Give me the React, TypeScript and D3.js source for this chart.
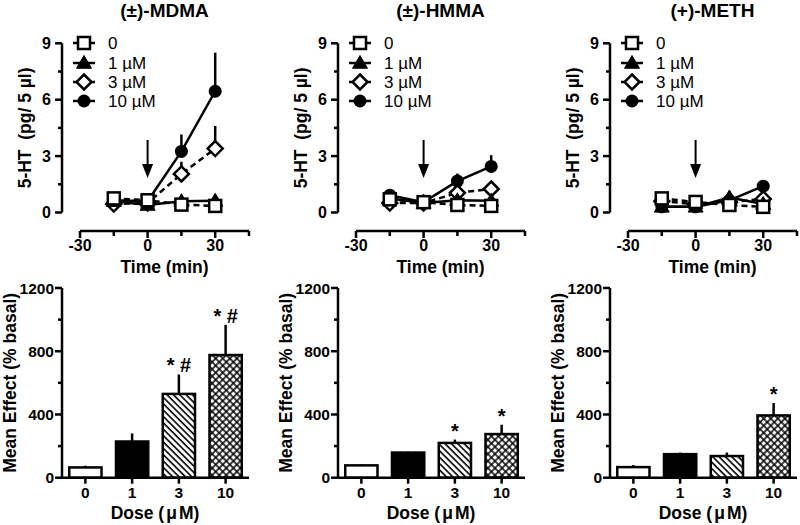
import React from 'react';
import * as d3 from 'd3';

const TIMES = [-15, 0, 15, 30];
const DOSE_LABELS = ['0', '1 µM', '3 µM', '10 µM'];
const BAR_CATS = ['0', '1', '3', '10'];
const DRUGS = ['(±)-MDMA', '(±)-HMMA', '(+)-METH'];

// time-course means (pg / 5 µl)
const mdma_0 = [0.75, 0.65, 0.42, 0.35];
const mdma_1 = [0.6, 0.4, 0.6, 0.62];
const mdma_3 = [0.45, 0.5, 2.05, 3.4];
const mdma_10 = [0.65, 0.6, 3.25, 6.45];
const mdma_3_err = [0.05, 0.05, 0.65, 1.2];
const mdma_10_err = [0.1, 0.1, 0.9, 2.05];

const hmma_0 = [0.7, 0.55, 0.4, 0.35];
const hmma_1 = [0.75, 0.5, 0.65, 0.62];
const hmma_3 = [0.5, 0.5, 1.05, 1.25];
const hmma_10 = [0.92, 0.55, 1.67, 2.45];
const hmma_3_err = [0.05, 0.05, 0.2, 0.4];
const hmma_10_err = [0.1, 0.1, 0.4, 0.6];

const meth_0 = [0.75, 0.56, 0.4, 0.3];
const meth_1 = [0.3, 0.3, 0.8, 0.45];
const meth_3 = [0.6, 0.45, 0.55, 0.72];
const meth_10 = [0.3, 0.3, 0.65, 1.4];
const meth_3_err = [0.05, 0.05, 0.05, 0.1];
const meth_10_err = [0.05, 0.05, 0.1, 0.3];

// mean effect (% basal)
const mdma_mean = [65, 229, 530, 776];
const mdma_mean_err = [11, 51, 123, 191];
const hmma_mean = [78, 159, 220, 276];
const hmma_mean_err = [5, 6, 21, 59];
const meth_mean = [67, 149, 137, 394];
const meth_mean_err = [13, 10, 22, 78];

const mdma_sig = ['', '', '* #', '* #'];
const hmma_sig = ['', '', '*', '*'];
const meth_sig = ['', '', '', '*'];

const TOP_Y_TICKS = [0, 3, 6, 9];
const TOP_Y_MINOR = [1.5, 4.5, 7.5];
const TOP_X_TICKS = [-30, 0, 30];
const TOP_X_MINOR = [-15, 15, 45];
const BOT_Y_TICKS = [0, 400, 800, 1200];
const BOT_Y_MINOR = [200, 600, 1000];

const PANEL_X = [62, 338, 610];

const FONT = 'Liberation Sans, Arial, sans-serif';
const SW = 2.5;

type Series = { vals: number[]; err: number[] | null };

const timeData: Series[][] = [
  [
    { vals: mdma_0, err: null },
    { vals: mdma_1, err: null },
    { vals: mdma_3, err: mdma_3_err },
    { vals: mdma_10, err: mdma_10_err },
  ],
  [
    { vals: hmma_0, err: null },
    { vals: hmma_1, err: null },
    { vals: hmma_3, err: hmma_3_err },
    { vals: hmma_10, err: hmma_10_err },
  ],
  [
    { vals: meth_0, err: null },
    { vals: meth_1, err: null },
    { vals: meth_3, err: meth_3_err },
    { vals: meth_10, err: meth_10_err },
  ],
];
const barData = [
  { mean: mdma_mean, err: mdma_mean_err, sig: mdma_sig },
  { mean: hmma_mean, err: hmma_mean_err, sig: hmma_sig },
  { mean: meth_mean, err: meth_mean_err, sig: meth_sig },
];

const DASHED = [true, false, true, false];

function Marker({ kind, x, y }: { kind: number; x: number; y: number }) {
  if (kind === 0)
    return <rect x={x - 6} y={y - 6} width={12} height={12} fill="white" stroke="black" strokeWidth={SW} />;
  if (kind === 1) {
    const s = 7.5;
    return (
      <path
        d={`M${x},${y - s} L${x + s},${y + s * 0.7} L${x - s},${y + s * 0.7} Z`}
        fill="black"
        stroke="black"
        strokeWidth={1}
      />
    );
  }
  if (kind === 2) {
    const s = 7.5;
    return (
      <path
        d={`M${x},${y - s} L${x + s},${y} L${x},${y + s} L${x - s},${y} Z`}
        fill="white"
        stroke="black"
        strokeWidth={SW}
      />
    );
  }
  return <circle cx={x} cy={y} r={6.5} fill="black" />;
}

function TopPanel({ idx }: { idx: number }) {
  const ax = PANEL_X[idx];
  const x = d3.scaleLinear().domain([-30, 45]).range([ax + 18, ax + 187]);
  const y = d3.scaleLinear().domain([0, 9]).range([212.5, 43.3]);
  const xAxisY = 231;
  const series = timeData[idx];
  const line = d3
    .line<number>()
    .x((_, i) => x(TIMES[i]))
    .y((d) => y(d));
  const order = [3, 2, 1, 0];
  const legendRows = [43, 63, 82, 101];
  return (
    <g>
      <text x={x(7.5)} y={17} textAnchor="middle" fontSize={19} fontWeight="bold" fontFamily={FONT}>
        {DRUGS[idx]}
      </text>
      {/* y axis */}
      <line x1={ax} x2={ax} y1={y(0)} y2={y(9)} stroke="black" strokeWidth={SW} />
      {TOP_Y_TICKS.map((t) => (
        <g key={t}>
          <line x1={ax - 7} x2={ax} y1={y(t)} y2={y(t)} stroke="black" strokeWidth={SW} />
          <text x={ax - 11} y={y(t) + 5.5} textAnchor="end" fontSize={16} fontWeight="bold" fontFamily={FONT}>
            {t}
          </text>
        </g>
      ))}
      {TOP_Y_MINOR.map((t) => (
        <line key={t} x1={ax - 4} x2={ax} y1={y(t)} y2={y(t)} stroke="black" strokeWidth={SW} />
      ))}
      <text
        transform={`translate(${ax - 31},${y(4.5)}) rotate(-90)`}
        textAnchor="middle"
        fontSize={17.5}
        fontWeight="bold"
        fontFamily={FONT}
        style={{ whiteSpace: 'pre' }}
      >
        {'5-HT  (pg/ 5 µl)'}
      </text>
      {/* x axis */}
      <line x1={x(-30)} x2={x(45)} y1={xAxisY} y2={xAxisY} stroke="black" strokeWidth={SW} />
      {TOP_X_TICKS.map((t) => (
        <g key={t}>
          <line x1={x(t)} x2={x(t)} y1={xAxisY} y2={xAxisY + 7} stroke="black" strokeWidth={SW} />
          <text x={x(t)} y={xAxisY + 20} textAnchor="middle" fontSize={16} fontWeight="bold" fontFamily={FONT}>
            {t}
          </text>
        </g>
      ))}
      {TOP_X_MINOR.map((t) => (
        <line key={t} x1={x(t)} x2={x(t)} y1={xAxisY} y2={xAxisY + 5} stroke="black" strokeWidth={SW} />
      ))}
      <text x={x(7.5)} y={273} textAnchor="middle" fontSize={17.5} fontWeight="bold" fontFamily={FONT}>
        Time (min)
      </text>
      {/* arrow */}
      <line x1={x(0)} x2={x(0)} y1={140} y2={166} stroke="black" strokeWidth={2} />
      <path d={`M${x(0) - 5.5},${164} L${x(0) + 5.5},${164} L${x(0)},${178} Z`} fill="black" />
      {/* lines */}
      {order.map((k) => (
        <path
          key={'l' + k}
          d={line(series[k].vals) || ''}
          fill="none"
          stroke="black"
          strokeWidth={SW}
          strokeDasharray={DASHED[k] ? '6,4' : undefined}
        />
      ))}
      {/* error bars */}
      {order.map((k) =>
        series[k].err
          ? series[k].vals.map((v, i) => (
              <line
                key={'e' + k + i}
                x1={x(TIMES[i])}
                x2={x(TIMES[i])}
                y1={y(v)}
                y2={y(v + (series[k].err as number[])[i])}
                stroke="black"
                strokeWidth={SW}
              />
            ))
          : null
      )}
      {/* markers */}
      {order.map((k) =>
        series[k].vals.map((v, i) => <Marker key={'m' + k + i} kind={k} x={x(TIMES[i])} y={y(v)} />)
      )}
      {/* legend */}
      {DOSE_LABELS.map((lab, k) => (
        <g key={'lg' + k}>
          <line x1={ax + 11} x2={ax + 33} y1={legendRows[k]} y2={legendRows[k]} stroke="black" strokeWidth={SW} />
          <Marker kind={k} x={ax + 22} y={legendRows[k]} />
          <text x={ax + 46} y={legendRows[k] + 6} fontSize={17} fontFamily={FONT}>
            {lab}
          </text>
        </g>
      ))}
    </g>
  );
}

const FILLS = ['white', 'black', 'url(#hatch)', 'url(#cross)'];

function BottomPanel({ idx }: { idx: number }) {
  const ax = PANEL_X[idx];
  const xb = d3.scaleBand<string>().domain(BAR_CATS).range([ax, ax + 187]).paddingInner(0.31).paddingOuter(0.155);
  const y = d3.scaleLinear().domain([0, 1200]).range([477.7, 288]);
  const d = barData[idx];
  return (
    <g>
      {BAR_CATS.map((c, i) => {
        const bx = xb(c) as number;
        const cx = bx + xb.bandwidth() / 2;
        const top = y(d.mean[i]);
        const errTop = y(d.mean[i] + d.err[i]);
        return (
          <g key={c}>
            <line x1={cx} x2={cx} y1={top} y2={errTop} stroke="black" strokeWidth={SW} />
            <rect
              x={bx}
              y={top}
              width={xb.bandwidth()}
              height={y(0) - top}
              fill={FILLS[i]}
              stroke="black"
              strokeWidth={SW}
            />
            {d.sig[i] ? (
              <text
                x={cx}
                y={errTop - 2}
                textAnchor="middle"
                fontSize={20}
                fontWeight="bold"
                fontFamily={FONT}
                style={{ whiteSpace: 'pre' }}
              >
                {d.sig[i]}
              </text>
            ) : null}
            <line x1={cx} x2={cx} y1={y(0)} y2={y(0) + 6} stroke="black" strokeWidth={SW} />
            <text x={cx} y={498} textAnchor="middle" fontSize={15.5} fontWeight="bold" fontFamily={FONT}>
              {c}
            </text>
          </g>
        );
      })}
      <line x1={ax} x2={ax} y1={y(0)} y2={y(1200)} stroke="black" strokeWidth={SW} />
      <line x1={ax} x2={ax + 187} y1={y(0)} y2={y(0)} stroke="black" strokeWidth={SW} />
      {BOT_Y_TICKS.map((t) => (
        <g key={t}>
          <line x1={ax - 7} x2={ax} y1={y(t)} y2={y(t)} stroke="black" strokeWidth={SW} />
          <text x={ax - 8} y={y(t) + 5.5} textAnchor="end" fontSize={15.5} fontWeight="bold" fontFamily={FONT}>
            {t}
          </text>
        </g>
      ))}
      {BOT_Y_MINOR.map((t) => (
        <line key={t} x1={ax - 4} x2={ax} y1={y(t)} y2={y(t)} stroke="black" strokeWidth={SW} />
      ))}
      <text
        transform={`translate(${ax - 46},${y(600)}) rotate(-90)`}
        textAnchor="middle"
        fontSize={17.5}
        fontWeight="bold"
        fontFamily={FONT}
      >
        Mean Effect (% basal)
      </text>
      <text x={ax + 93} y={519} textAnchor="middle" fontSize={17.5} fontWeight="bold" fontFamily={FONT}>
        Dose (<tspan dx={2}>μ</tspan>
        <tspan dx={2}>M</tspan>)
      </text>
    </g>
  );
}

export default function App() {
  return (
    <svg
      width={800}
      height={525}
      style={{ position: 'absolute', left: 0, top: 0, background: 'white' }}
      xmlns="http://www.w3.org/2000/svg"
    >
      <defs>
        <pattern id="hatch" patternUnits="userSpaceOnUse" width={4.5} height={4.5} patternTransform="rotate(-45)">
          <rect width={4.5} height={4.5} fill="white" />
          <line x1={1} x2={1} y1={0} y2={4.5} stroke="black" strokeWidth={1.6} />
        </pattern>
        <pattern id="cross" patternUnits="userSpaceOnUse" width={5} height={5} patternTransform="rotate(45)">
          <rect width={5} height={5} fill="white" />
          <line x1={1} x2={1} y1={0} y2={5} stroke="black" strokeWidth={1.5} />
          <line x1={0} x2={5} y1={1} y2={1} stroke="black" strokeWidth={1.5} />
        </pattern>
      </defs>
      <rect width={800} height={525} fill="white" />
      {[0, 1, 2].map((i) => (
        <g key={i}>
          <TopPanel idx={i} />
          <BottomPanel idx={i} />
        </g>
      ))}
    </svg>
  );
}
